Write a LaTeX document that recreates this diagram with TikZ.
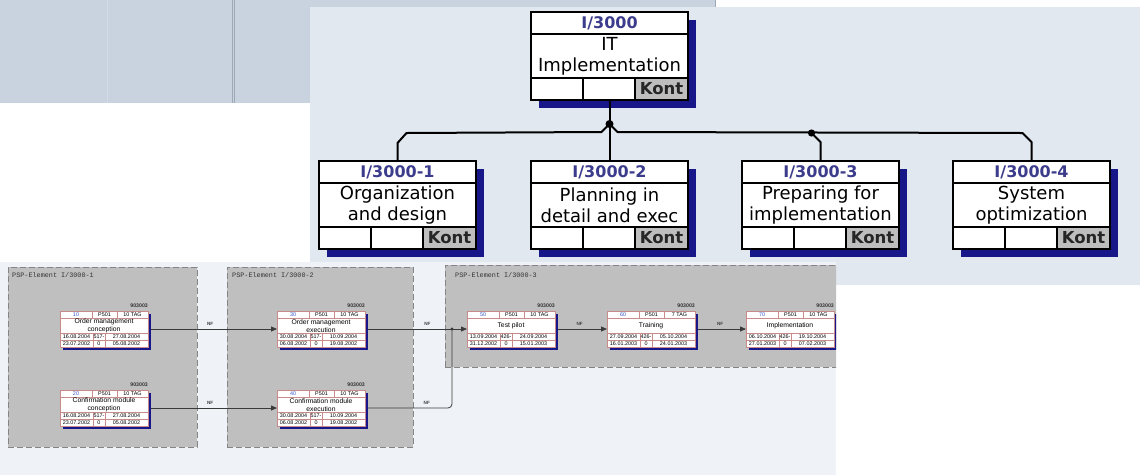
\documentclass[tikz,border=0pt]{standalone}
\usepackage{fontspec}
\setmainfont{DejaVu Sans}
\newfontfamily\netfont{Liberation Sans}
\newfontfamily\psfont{Liberation Mono}
\usetikzlibrary{arrows.meta,calc}

\definecolor{bandgray}{HTML}{C9D3DF}
\definecolor{bandline}{HTML}{9EA9B6}
\definecolor{bandfaint}{HTML}{D3DBE5}
\definecolor{panelblue}{HTML}{E2E8F0}
\definecolor{netback}{HTML}{EFF2F6}
\definecolor{groupgray}{HTML}{BFBFBF}
\definecolor{groupedge}{HTML}{858585}
\definecolor{codeblue}{HTML}{3C3C8C}
\definecolor{navyshadow}{HTML}{17178A}
\definecolor{kontgray}{HTML}{BEBEBE}
\definecolor{actedge}{HTML}{C98A8A}
\definecolor{numblue}{HTML}{3355CC}
\definecolor{netline}{HTML}{3A3A3A}

\tikzset{
  treeline/.style={line width=2pt, black},
  wbsframe/.style={fill=white, minimum width=157pt, minimum height=88pt,
    inner sep=0pt, outer sep=0pt, anchor=north west},
  wbsrule/.style={black, line width=1.3pt},
  wbsborder/.style={black, line width=1.5pt},
  wbscode/.style={font=\bfseries\fontsize{16}{18}\selectfont, text=codeblue, inner sep=0pt},
  wbsname/.style={font=\fontsize{18}{21}\selectfont, align=center, inner sep=0pt},
  wbskont/.style={font=\bfseries\fontsize{16.5}{18}\selectfont, text=black!85, inner sep=0pt},
  group/.style={fill=groupgray, draw=groupedge, line width=0.9pt,
    dash pattern=on 6pt off 3pt, inner sep=0pt, outer sep=0pt, anchor=north west},
  grouplabel/.style={font=\psfont\fontsize{6.8}{8}\selectfont, text=black!80, inner sep=0pt, anchor=west},
  actframe/.style={fill=white, draw=actedge, line width=0.6pt, minimum width=88pt,
    minimum height=36pt, inner sep=0pt, outer sep=0pt, anchor=north west},
  actrule/.style={actedge, line width=0.6pt},
  actsmall/.style={font=\netfont\fontsize{5.4}{6}\selectfont, inner sep=0pt},
  acttag/.style={font=\netfont\bfseries\fontsize{5.2}{6}\selectfont, text=black!80, inner sep=0pt, anchor=east},
  acttitle/.style={font=\netfont\fontsize{6.8}{8}\selectfont, align=center, inner sep=0pt},
  netedge/.style={netline, line width=0.8pt, -{Triangle[length=6pt,width=5pt]}},
  netlink/.style={netline, line width=0.8pt, rounded corners=4pt},
  nflabel/.style={font=\netfont\bfseries\fontsize{4.6}{5}\selectfont, text=black!75, inner sep=0pt, above=3.5pt},
}

% WBS element: name, left x, top y, code, title
\newcommand\wbsbox[5]{%
  \fill[navyshadow] (#2+8,#3+8) rectangle ++(157,88);
  \node[wbsframe] (#1) at (#2,#3) {};
  \fill[kontgray] (#2+104,#3+66) rectangle ++(53,22);
  \draw[wbsrule] (#2,#3+22) -- ++(157,0) (#2,#3+66) -- ++(157,0)
    (#2+52,#3+66) -- ++(0,22) (#2+104,#3+66) -- ++(0,22);
  \draw[wbsborder] (#1.north west) rectangle (#1.south east);
  \node[wbscode] (#1-code) at (#2+78.5,#3+11) {#4};
  \node[wbsname] (#1-name) at (#2+78.5,#3+44) {#5};
  \node[wbskont] (#1-kont) at (#2+130.5,#3+77) {Kont};
}

% network activity: name, left x, top y, number, duration, title
\newcommand\actnode[6]{%
  \fill[navyshadow] (#2+3,#3+3) rectangle ++(88,36);
  \node[actframe] (#1) at (#2,#3) {};
  \draw[actrule] (#2,#3+7) -- ++(88,0) (#2,#3+22) -- ++(88,0) (#2,#3+29) -- ++(88,0)
    (#2+32,#3) -- ++(0,7) (#2+57,#3) -- ++(0,7)
    (#2+33,#3+22) -- ++(0,14) (#2+45,#3+22) -- ++(0,14);
  \node[acttag] (#1-tag) at (#2+88,#3-5) {903003};
  \node[actsmall, text=numblue] (#1-num) at (#2+16,#3+3.7) {#4};
  \node[actsmall] (#1-unit) at (#2+44.5,#3+3.7) {P501};
  \node[actsmall] (#1-dur) at (#2+72.5,#3+3.7) {#5};
  \node[acttitle] (#1-title) at (#2+44,#3+14.8) {#6};
}

% dates of an activity: name, then the six cell values
\newcommand\actdates[7]{%
  \node[actsmall] (#1-es) at ($(#1.north west)+(16.5,25.7)$) {#2};
  \node[actsmall] (#1-fl) at ($(#1.north west)+(39,25.7)$) {#3};
  \node[actsmall] (#1-ef) at ($(#1.north west)+(66.5,25.7)$) {#4};
  \node[actsmall] (#1-ls) at ($(#1.north west)+(16.5,32.7)$) {#5};
  \node[actsmall] (#1-tf) at ($(#1.north west)+(39,32.7)$) {#6};
  \node[actsmall] (#1-lf) at ($(#1.north west)+(66.5,32.7)$) {#7};
}

\begin{document}
\begin{tikzpicture}[x=1pt, y=-1pt]
\useasboundingbox (0,0) rectangle (1146,475);
\fill[white] (0,0) rectangle (1146,475);

% window band behind
\fill[bandgray] (0,0) rectangle (715,103);
\draw[bandfaint, line width=1pt] (107,0) -- (107,103);
\draw[bandline, line width=0.8pt] (232,0) -- (232,103) (234.5,0) -- (234.5,103);
\draw[bandline, line width=0.8pt] (715,0) -- (715,7);

% structure panel
\fill[panelblue] (310,7) rectangle (1140,285);

% network panel
\fill[netback] (0,262) rectangle (836,475);

% project structure
\wbsbox{root}{531}{12}{I/3000}{IT\\Implementation}
\wbsbox{c1}{319}{161}{I/3000-1}{Organization\\and design}
\wbsbox{c2}{531}{161}{I/3000-2}{Planning in\\detail and exec}
\wbsbox{c3}{742}{161}{I/3000-3}{Preparing for\\implementation}
\wbsbox{c4}{953}{161}{I/3000-4}{System\\optimization}

\coordinate (hub) at ($(root.south)+(0,24)$);
\coordinate (tap) at ($(c3.north)+(-9,-28)$);
\draw[treeline] (root.south) -- (c2.north);
\draw[treeline, line join=round] (c1.north) -- ++(0,-18) -- ++(9,-10)
  -- ($(hub)+(-8,8)$) -- (hub) -- ($(hub)+(8,8)$)
  -- ($(c4.north)+(-9,-28)$) -- ($(c4.north)+(0,-19)$) -- (c4.north);
\draw[treeline, line join=round] (tap) -- ($(c3.north)+(0,-19)$) -- (c3.north);
\fill (hub) circle (4);
\fill (tap) circle (3.6);

% network groups
\begin{scope}
\clip (0,250) rectangle (836,475);
\node[group, minimum width=189pt, minimum height=180pt] (g1) at (8,267) {};
\node[group, minimum width=186pt, minimum height=180pt] (g2) at (227,267) {};
\node[group, minimum width=405pt, minimum height=102pt] (g3) at (445,265) {};
\node[grouplabel] (g1-label) at (12,275.5) {PSP-Element I/3000-1};
\node[grouplabel] (g2-label) at (232,275.5) {PSP-Element I/3000-2};
\node[grouplabel] (g3-label) at (455,275) {PSP-Element I/3000-3};

% activities
\actnode{n10}{60}{311}{10}{10 TAG}{Order management\\conception}
\actdates{n10}{16.08.2004}{517-}{27.08.2004}{23.07.2002}{0}{05.08.2002}
\actnode{n20}{60}{390}{20}{10 TAG}{Confirmation module\\conception}
\actdates{n20}{16.08.2004}{517-}{27.08.2004}{23.07.2002}{0}{05.08.2002}
\actnode{n30}{277}{311}{30}{10 TAG}{Order management\\execution}
\actdates{n30}{30.08.2004}{517-}{10.09.2004}{06.08.2002}{0}{19.08.2002}
\actnode{n40}{277}{390}{40}{10 TAG}{Confirmation module\\execution}
\actdates{n40}{30.08.2004}{517-}{10.09.2004}{06.08.2002}{0}{19.08.2002}
\actnode{n50}{467}{311}{50}{10 TAG}{Test pilot}
\actdates{n50}{13.09.2004}{426-}{24.09.2004}{31.12.2002}{0}{15.01.2003}
\actnode{n60}{607}{311}{60}{7 TAG}{Training}
\actdates{n60}{27.09.2004}{426-}{05.10.2004}{16.01.2003}{0}{24.01.2003}
\actnode{n70}{746}{311}{70}{10 TAG}{Implementation}
\actdates{n70}{06.10.2004}{426-}{19.10.2004}{27.01.2003}{0}{07.02.2003}

% relationships
\coordinate (join) at ($(n50.west)+(-15,0)$);
\draw[netedge] ([xshift=3pt]n10.east) -- node[nflabel, pos=0.47] (nf1) {NF} (n30.west);
\draw[netedge] ([xshift=3pt]n20.east) -- node[nflabel, pos=0.47] (nf2) {NF} (n40.west);
\draw[netedge] ([xshift=3pt]n30.east) -- node[nflabel, pos=0.6] (nf3) {NF} (n50.west);
\draw[netlink] ([xshift=3pt]n40.east) -- node[nflabel, pos=0.7] (nf4) {NF} (join |- n40.east) -- (join);
\fill[netline] (join) circle (1.7);
\draw[netedge] ([xshift=3pt]n50.east) -- node[nflabel, pos=0.44] (nf5) {NF} (n60.west);
\draw[netedge] ([xshift=3pt]n60.east) -- node[nflabel, pos=0.46] (nf6) {NF} (n70.west);
\end{scope}
\end{tikzpicture}
\end{document}
